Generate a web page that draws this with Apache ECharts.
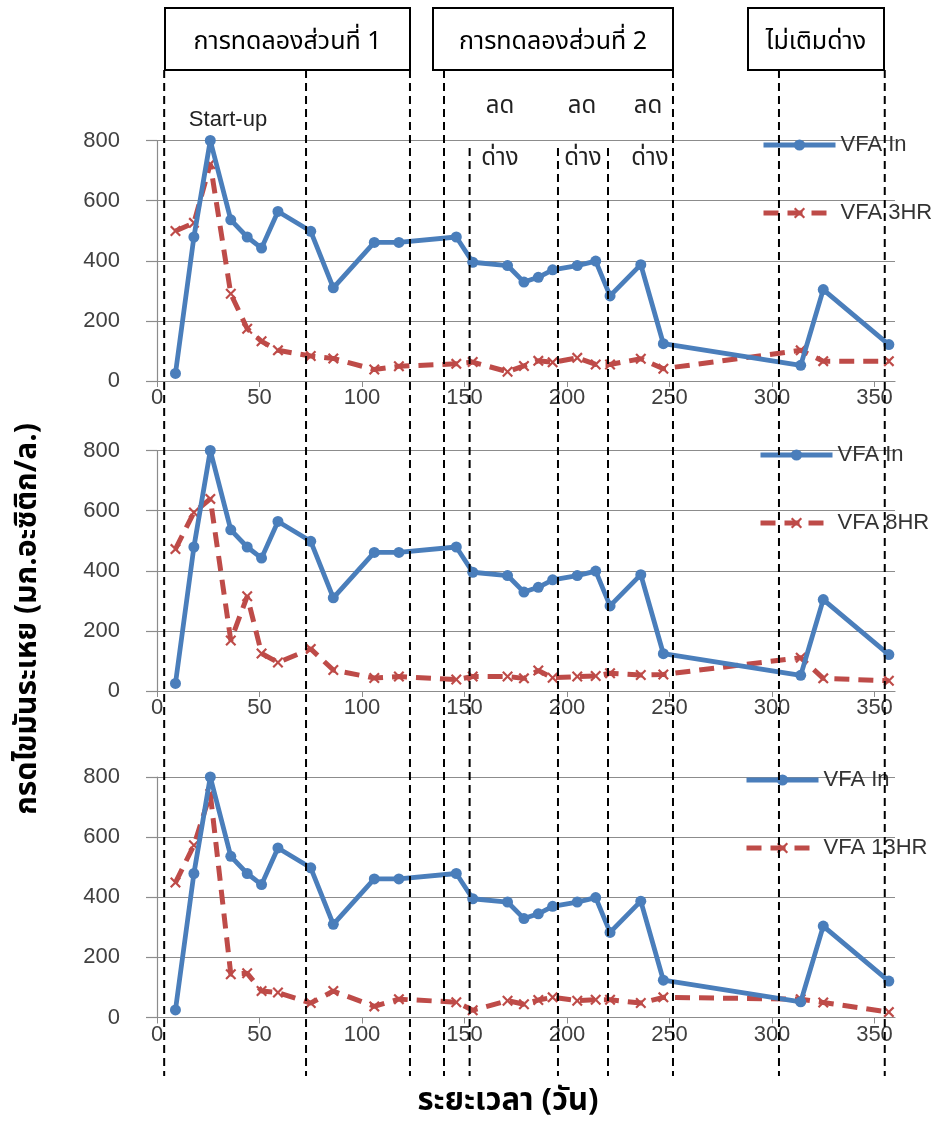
<!DOCTYPE html>
<html>
<head>
<meta charset="utf-8">
<script src="https://cdn.jsdelivr.net/npm/echarts@6/dist/echarts.min.js"></script>
<style>
  html, body { margin: 0; padding: 0; background: #ffffff; }
  #chart { width: 944px; height: 1125px; }
</style>
</head>
<body>
<div id="chart"></div>
<script>
// Sampling days (shared by every series)
const days = [9, 18, 26, 36, 44, 51, 59, 75, 86, 106, 118, 146, 154, 171, 179, 186, 193, 205, 214, 221, 236, 247, 314, 325, 357];

// Volatile fatty acids, mg acetic / L
const vfaIn   = [25, 479, 800, 536, 479, 442, 564, 498, 310, 461, 461, 479, 395, 384, 329, 345, 370, 384, 399, 283, 387, 124, 52, 304, 121];
const vfa3HR  = [499, 526, 722, 290, 174, 132, 102, 83, 75, 38, 49, 57, 63, 31, 50, 67, 62, 77, 55, 55, 74, 41, 102, 66, 66];
const vfa8HR  = [472, 594, 639, 168, 315, 125, 95, 140, 70, 43, 48, 38, 48, 48, 42, 68, 44, 48, 50, 59, 53, 55, 111, 42, 34];
const vfa13HR = [449, 573, 744, 144, 147, 88, 83, 48, 88, 37, 61, 51, 24, 56, 44, 58, 67, 56, 59, 59, 48, 67, 61, 50, 18];

const panelNames = ['VFA 3HR', 'VFA 8HR', 'VFA 13HR'];
const panelValues = [vfa3HR, vfa8HR, vfa13HR];

// Axis ticks
const xTicks = [0, 50, 100, 150, 200, 250, 300, 350];
const yTicks = [0, 200, 400, 600, 800];

// Phase boundaries (days) drawn as dashed verticals across all panels
const dividerDays = [3.5, 72.7, 123.4, 140, 152.5, 195.6, 220, 251.7, 303.4, 355];
const shortDividers = [152.5, 195.6, 220]; // these start below the "ลด" labels

const BLUE = '#4A7EBB';
const RED = '#BE4B48';
const GRID_C = '#8C8C8C';
const LABEL_FONT = "'Liberation Sans', Arial, sans-serif";
const THAI_FONT = "'Noto Sans Thai', 'Noto Sans Thai UI', 'Norasi', 'Garuda', 'Loma', 'Tlwg Typo', 'DejaVu Sans', sans-serif";
const CROSS = 'path://M0,1.4L1.4,0L5,3.6L8.6,0L10,1.4L6.4,5L10,8.6L8.6,10L5,6.4L1.4,10L0,8.6L3.6,5Z';

const gridTops = [140.5, 450.5, 777];
const gridH = 240.5;
const legendPos = [
  { left: 756, top: 127 },
  { left: 753, top: 437 },
  { left: 739, top: 762 }
];

const grids = [], xAxes = [], yAxes = [], series = [], legends = [];

gridTops.forEach((top, i) => {
  grids.push({ left: 157, width: 738, top: top, height: gridH });
  xAxes.push({
    type: 'value', gridIndex: i, min: 0, max: 360, interval: 50,
    axisLine: { show: true, lineStyle: { color: GRID_C, width: 1.2 } },
    axisTick: { show: true, length: 6, customValues: xTicks, lineStyle: { color: GRID_C } },
    axisLabel: { customValues: xTicks, margin: 6, fontFamily: LABEL_FONT, fontSize: 22, color: '#404040' },
    splitLine: { show: false }
  });
  yAxes.push({
    type: 'value', gridIndex: i, min: 0, max: 800, interval: 200,
    axisLine: { show: true, onZero: false, lineStyle: { color: GRID_C, width: 1.2 } },
    axisTick: { show: true, length: 11, customValues: yTicks, lineStyle: { color: GRID_C, width: 1.2 } },
    axisLabel: { customValues: yTicks, margin: 37, fontFamily: LABEL_FONT, fontSize: 22, color: '#404040' },
    splitLine: { show: true, lineStyle: { color: GRID_C, width: 1.2 } }
  });
  series.push({
    name: 'VFA In', type: 'line', xAxisIndex: i, yAxisIndex: i, clip: false,
    data: days.map((d, k) => [d, vfaIn[k]]),
    symbol: 'circle', symbolSize: 11,
    itemStyle: { color: BLUE },
    lineStyle: { color: BLUE, width: 4.8 },
    z: 3
  });
  series.push({
    name: panelNames[i], type: 'line', xAxisIndex: i, yAxisIndex: i, clip: false,
    data: days.map((d, k) => [d, panelValues[i][k]]),
    symbol: CROSS, symbolSize: 11,
    itemStyle: { color: RED },
    lineStyle: { color: RED, width: 5, type: [15, 9] },
    z: 2
  });
  legends.push({
    orient: 'vertical', left: legendPos[i].left, top: legendPos[i].top,
    data: ['VFA In', panelNames[i]],
    itemWidth: 72, itemHeight: 14, itemGap: 42,
    selectedMode: false,
    lineStyle: { width: 5 },
    textStyle: { fontFamily: LABEL_FONT, fontSize: 22, color: '#333', lineHeight: 26 }
  });
});

const chart = echarts.init(document.getElementById('chart'));
chart.setOption({
  animation: false,
  backgroundColor: '#ffffff',
  grid: grids, xAxis: xAxes, yAxis: yAxes, series: series, legend: legends
});

// Overlay annotations
const g = [];
const boxes = [
  { x: 165, w: 245, text: 'การทดลองส่วนที่ 1' },
  { x: 433, w: 240, text: 'การทดลองส่วนที่ 2' },
  { x: 748, w: 136, text: 'ไม่เติมด่าง' }
];
boxes.forEach(b => {
  g.push({ type: 'rect', shape: { x: b.x, y: 8, width: b.w, height: 62 },
    style: { fill: '#fff', stroke: '#000', lineWidth: 2 }, z: 100 });
  g.push({ type: 'text', x: b.x + b.w / 2, y: 44, z: 101,
    style: { text: b.text, font: "25px " + THAI_FONT, fill: '#000', align: 'center', verticalAlign: 'middle' } });
});

dividerDays.forEach(d => {
  const px = chart.convertToPixel({ xAxisIndex: 0 }, d);
  const top = shortDividers.includes(d) ? 148 : 70;
  g.push({ type: 'line', shape: { x1: px, y1: top, x2: px, y2: 1076 },
    style: { stroke: '#000', lineWidth: 2, lineDash: [8, 5] }, z: 99 });
});

const notes = [
  { x: 228, y: 120, t: 'Start-up', f: "22px " + LABEL_FONT },
  { x: 500, y: 108, t: 'ลด' }, { x: 582, y: 108, t: 'ลด' }, { x: 648, y: 108, t: 'ลด' },
  { x: 500, y: 160, t: 'ด่าง' }, { x: 583, y: 160, t: 'ด่าง' }, { x: 650, y: 160, t: 'ด่าง' }
];
notes.forEach(n => {
  g.push({ type: 'text', x: n.x, y: n.y, z: 101,
    style: { text: n.t, font: n.f || ("24px " + THAI_FONT), fill: '#222', align: 'center', verticalAlign: 'middle' } });
});

// Axis titles
g.push({ type: 'text', x: 30, y: 619, rotation: Math.PI / 2, z: 101,
  style: { text: 'กรดไขมันระเหย (มก.อะซิติก/ล.)', font: "bold 30px " + THAI_FONT, fill: '#000', align: 'center', verticalAlign: 'middle' } });
g.push({ type: 'text', x: 508, y: 1104, z: 101,
  style: { text: 'ระยะเวลา (วัน)', font: "bold 31px " + THAI_FONT, fill: '#000', align: 'center', verticalAlign: 'middle' } });

chart.setOption({ graphic: g });
</script>
</body>
</html>
